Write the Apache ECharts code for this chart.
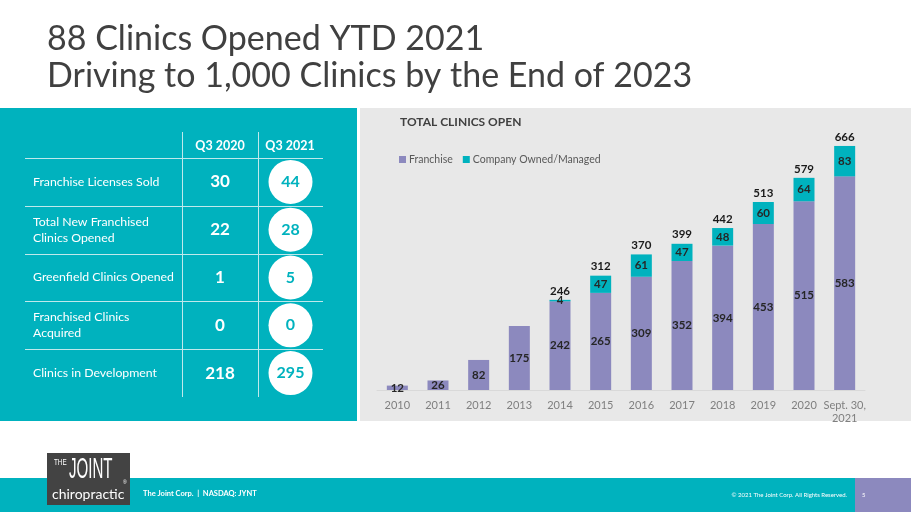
<!DOCTYPE html>
<html>
<head>
<meta charset="utf-8">
<script src="https://cdn.jsdelivr.net/npm/echarts@6/dist/echarts.min.js"></script>
<style>
  html, body { margin: 0; padding: 0; background: #fff; }
  #main { width: 911px; height: 512px; }
</style>
</head>
<body>
<div id="main"></div>
<script>
// chart values
const years = ['2010', '2011', '2012', '2013', '2014', '2015', '2016', '2017', '2018', '2019', '2020', 'Sept. 30,\n2021']
const franchise = [12, 26, 82, 175, 242, 265, 309, 352, 394, 453, 515, 583]
const companyOwned = [0, 0, 0, 0, 4, 47, 61, 47, 48, 60, 64, 83]
const totals = [12, 26, 82, 175, 246, 312, 370, 399, 442, 513, 579, 666]

// table values (left panel)
const tableHeads = ['Q3 2020', 'Q3 2021']
const rowLabels = ['Franchise Licenses Sold', 'Total New Franchised\nClinics Opened', 'Greenfield Clinics Opened', 'Franchised Clinics\nAcquired', 'Clinics in Development']
const q3_2020 = [30, 22, 1, 0, 218]
const q3_2021 = [44, 28, 5, 0, 295]

const TEAL = '#00B2BE'
const PURPLE = '#8C89BE'
const FONT = 'Lato'

// build the table graphics from the arrays
function tableGraphics () {
  let g = []
  let rowTop = 158
  let rowH = 47.8
  // header
  g.push({ type: 'text', style: { x: 220, y: 146, text: tableHeads[0], fill: '#fff', font: 'bold 12.5px ' + FONT, align: 'center', verticalAlign: 'middle' } })
  g.push({ type: 'text', style: { x: 290, y: 146, text: tableHeads[1], fill: '#fff', font: 'bold 12.5px ' + FONT, align: 'center', verticalAlign: 'middle' } })
  // lines
  g.push({ type: 'line', shape: { x1: 182.5, y1: 132, x2: 182.5, y2: 397 }, style: { stroke: '#BFE9EC', lineWidth: 1 } })
  g.push({ type: 'line', shape: { x1: 258.5, y1: 132, x2: 258.5, y2: 397 }, style: { stroke: '#BFE9EC', lineWidth: 1 } })
  for (let i = 0; i < rowLabels.length; i++) {
    let y0 = rowTop + i * rowH
    let cy = y0 + rowH / 2
    g.push({ type: 'line', shape: { x1: 25, y1: Math.round(y0) + 0.5, x2: 323, y2: Math.round(y0) + 0.5 }, style: { stroke: '#BFE9EC', lineWidth: 1 } })
    g.push({ type: 'text', style: { x: 33, y: cy, text: rowLabels[i], fill: '#fff', font: '12.3px ' + FONT, lineHeight: 16, verticalAlign: 'middle' } })
    g.push({ type: 'text', style: { x: 220, y: cy, text: String(q3_2020[i]), fill: '#fff', font: 'bold 17px ' + FONT, align: 'center', verticalAlign: 'middle' } })
    g.push({ type: 'circle', shape: { cx: 290.5, cy: cy, r: 22 }, style: { fill: '#fff' } })
    g.push({ type: 'text', style: { x: 290.5, y: cy, text: String(q3_2021[i]), fill: TEAL, font: 'bold 16px ' + FONT, align: 'center', verticalAlign: 'middle' } })
  }
  return g
}

const chart = echarts.init(document.getElementById('main'))

const option = {
  backgroundColor: '#fff',
  animation: false,
  textStyle: { fontFamily: FONT },
  graphic: [
    // panels
    { type: 'rect', z: -10, shape: { x: 0, y: 108, width: 357, height: 313 }, style: { fill: TEAL } },
    { type: 'rect', z: -10, shape: { x: 360, y: 108, width: 551, height: 313 }, style: { fill: '#E8E8E8' } },
    // title
    { type: 'text', style: { x: 47, y: 39, text: '88 Clinics Opened YTD 2021', fill: '#404040', font: '34px ' + FONT, verticalAlign: 'middle' } },
    { type: 'text', style: { x: 47, y: 76, text: 'Driving to 1,000 Clinics by the End of 2023', fill: '#404040', font: '34px ' + FONT, verticalAlign: 'middle' } },
    // chart title
    { type: 'text', style: { x: 400, y: 122, text: 'TOTAL CLINICS OPEN', fill: '#404040', font: 'bold 12px ' + FONT, verticalAlign: 'middle' } },
    // footer
    { type: 'rect', shape: { x: 0, y: 478, width: 855, height: 34 }, style: { fill: TEAL } },
    { type: 'rect', shape: { x: 855, y: 478, width: 56, height: 34 }, style: { fill: PURPLE } },
    { type: 'text', style: { x: 847, y: 495, text: '\u00A9 2021 The Joint Corp. All Rights Reserved.', fill: '#fff', font: '6px ' + FONT, align: 'right', verticalAlign: 'middle' } },
    { type: 'text', style: { x: 862, y: 495, text: '5', fill: '#fff', font: '6px ' + FONT, verticalAlign: 'middle' } },
    { type: 'text', style: { x: 143, y: 494, text: 'The Joint Corp.  |  NASDAQ: JYNT', fill: '#fff', font: 'bold 7.5px ' + FONT, verticalAlign: 'middle' } },
    // logo
    { type: 'rect', shape: { x: 47, y: 453, width: 83, height: 52 }, style: { fill: '#434343' } },
    { type: 'text', x: 54, y: 463, scaleX: 0.7, style: { x: 0, y: 0, text: 'THE', fill: '#fff', font: '9px "Liberation Sans"', verticalAlign: 'middle' } },
    { type: 'text', x: 69, y: 470, scaleX: 0.52, style: { x: 0, y: 0, text: 'JOINT', fill: '#fff', font: '29px "Liberation Sans"', verticalAlign: 'middle' } },
    { type: 'text', style: { x: 123, y: 483, text: '\u00AE', fill: '#fff', font: '5px "Liberation Sans"', verticalAlign: 'middle' } },
    { type: 'text', style: { x: 52, y: 494, text: 'chiropractic', fill: '#fff', font: '14px ' + FONT, verticalAlign: 'middle' } }
  ].concat(tableGraphics()),
  legend: {
    data: ['Franchise', 'Company Owned/Managed'],
    left: 394,
    top: 149,
    itemWidth: 7,
    itemHeight: 7,
    itemGap: 10,
    icon: 'rect',
    textStyle: { color: '#595959', fontSize: 10.5, fontFamily: FONT, padding: [0, 0, 0, -2] }
  },
  grid: { left: 377, top: 133.5, width: 488, height: 256.5 },
  xAxis: {
    type: 'category',
    data: years,
    axisLine: { lineStyle: { color: '#D9D9D9' } },
    axisTick: { show: false },
    axisLabel: { color: '#7F7F7F', fontSize: 11, margin: 9, lineHeight: 13, interval: 0 }
  },
  yAxis: { type: 'value', min: 0, max: 700, show: false },
  series: [
    {
      name: 'Franchise',
      type: 'bar',
      stack: 'clinics',
      barWidth: 21,
      data: franchise,
      itemStyle: { color: PURPLE },
      label: { show: true, position: 'inside', color: '#262626', fontWeight: 'bold', fontSize: 11.5 }
    },
    {
      name: 'Company Owned/Managed',
      type: 'bar',
      stack: 'clinics',
      barWidth: 21,
      data: companyOwned,
      itemStyle: { color: TEAL },
      label: {
        show: true,
        position: 'inside',
        color: '#262626',
        fontWeight: 'bold',
        fontSize: 11.5,
        formatter: (p) => p.value > 0 ? String(p.value) : ''
      }
    },
    {
      // totals drawn invisible, only for the top labels
      name: 'Total',
      type: 'bar',
      barWidth: 21,
      barGap: '-100%',
      data: totals,
      z: 1,
      itemStyle: { color: 'rgba(0,0,0,0)' },
      label: {
        show: true,
        position: 'top',
        distance: 3,
        color: '#1a1a1a',
        fontWeight: 'bold',
        fontSize: 11.5,
        formatter: (p) => companyOwned[p.dataIndex] > 0 ? String(p.value) : ''
      },
      emphasis: { disabled: true }
    }
  ]
}

chart.setOption(option)
</script>
</body>
</html>
